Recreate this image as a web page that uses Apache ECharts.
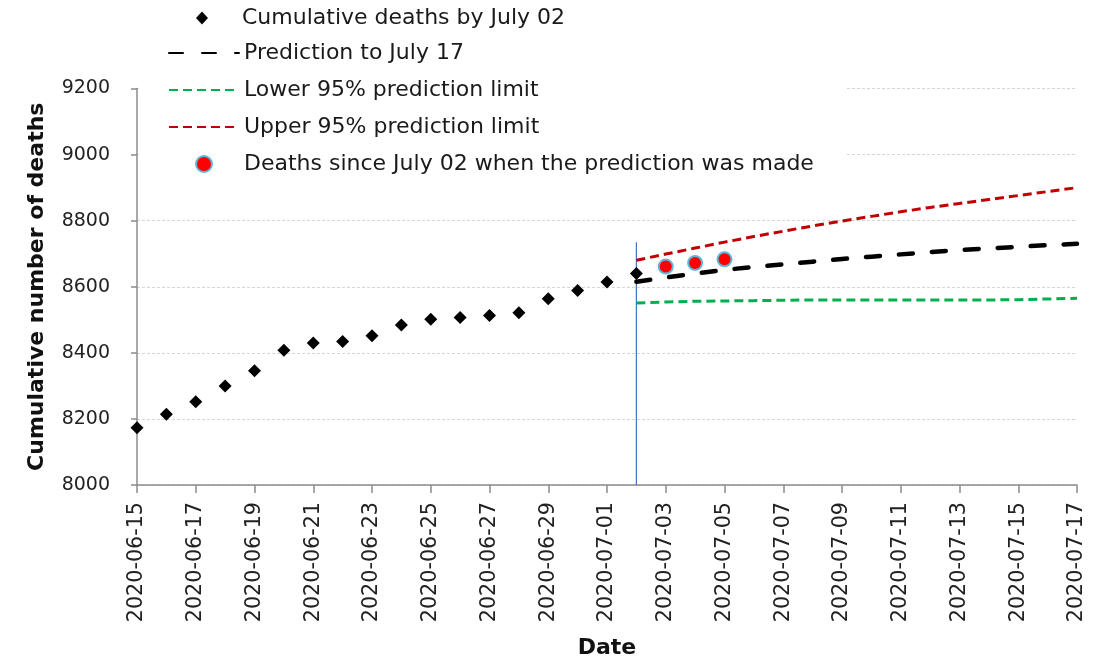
<!DOCTYPE html>
<html>
<head>
<meta charset="utf-8">
<script src="https://cdn.jsdelivr.net/npm/echarts@6/dist/echarts.min.js"></script>
<style>
  html, body { margin: 0; padding: 0; background: #fff; }
  #chart { width: 1112px; height: 664px; }
</style>
</head>
<body>
<div id="chart"></div>
<script>
// Daily calendar axis, 15 June to 17 July 2020
const dates = [
  '2020-06-15', '2020-06-16', '2020-06-17', '2020-06-18', '2020-06-19', '2020-06-20',
  '2020-06-21', '2020-06-22', '2020-06-23', '2020-06-24', '2020-06-25', '2020-06-26',
  '2020-06-27', '2020-06-28', '2020-06-29', '2020-06-30', '2020-07-01', '2020-07-02',
  '2020-07-03', '2020-07-04', '2020-07-05', '2020-07-06', '2020-07-07', '2020-07-08',
  '2020-07-09', '2020-07-10', '2020-07-11', '2020-07-12', '2020-07-13', '2020-07-14',
  '2020-07-15', '2020-07-16', '2020-07-17'
];

// Reported cumulative deaths up to the day the forecast was made
const observedDates = [
  '2020-06-15', '2020-06-16', '2020-06-17', '2020-06-18', '2020-06-19', '2020-06-20',
  '2020-06-21', '2020-06-22', '2020-06-23', '2020-06-24', '2020-06-25', '2020-06-26',
  '2020-06-27', '2020-06-28', '2020-06-29', '2020-06-30', '2020-07-01', '2020-07-02'
];
const observedDeaths = [
  8173, 8214, 8252, 8300, 8346, 8408,
  8430, 8434, 8452, 8484, 8502, 8507,
  8513, 8521, 8564, 8589, 8614, 8640
];

// Forecast horizon with point prediction and 95% prediction limits
const forecastDates = [
  '2020-07-02', '2020-07-03', '2020-07-04', '2020-07-05', '2020-07-06', '2020-07-07',
  '2020-07-08', '2020-07-09', '2020-07-10', '2020-07-11', '2020-07-12', '2020-07-13',
  '2020-07-14', '2020-07-15', '2020-07-16', '2020-07-17'
];
const prediction = [8615, 8628, 8640, 8651, 8660, 8668, 8676, 8684, 8691, 8698, 8705, 8711, 8716, 8721, 8726, 8730];
const lower95 = [8551, 8554, 8556, 8557, 8558, 8559, 8560, 8560, 8560, 8560, 8560, 8560, 8560, 8561, 8563, 8565];
const upper95 = [8680, 8699, 8717, 8735, 8752, 8768, 8784, 8799, 8813, 8827, 8840, 8852, 8864, 8876, 8888, 8900];

// Deaths reported after the forecast date
const newDates = ['2020-07-03', '2020-07-04', '2020-07-05'];
const newDeaths = [8661, 8672, 8683];

// Vertical marker at the forecast date
const cutoffDate = '2020-07-02';
const cutoffRange = [8000, 8735];

const yTicks = { min: 8000, max: 9200, interval: 200 };

const names = {
  observed: 'Cumulative deaths by July 02',
  prediction: 'Prediction to July 17',
  lower: 'Lower 95% prediction limit',
  upper: 'Upper 95% prediction limit',
  recent: 'Deaths since July 02 when the prediction was made'
};

const pairs = (xs, ys) => xs.map((x, i) => [x, ys[i]]);

const FONT = 'DejaVu Sans';
const legendText = { fontFamily: FONT, fontSize: 22, color: '#1a1a1a', lineHeight: 20 };

const chart = echarts.init(document.getElementById('chart'), null, { renderer: 'canvas' });

chart.setOption({
  animation: false,
  backgroundColor: '#ffffff',
  grid: { left: 137, right: 35, top: 88.5, bottom: 179, containLabel: false, outerBoundsMode: 'none' },
  graphic: [{
    type: 'rect',
    z: 3,
    shape: { x: 139, y: 78, width: 707, height: 102 },
    style: { fill: '#ffffff' },
    silent: true
  }],
  legend: [
    {
      data: [{ name: names.observed, icon: 'path://M0,0L6,6.5L0,13L-6,6.5Z' }],
      left: 196, top: 7, padding: 0,
      itemWidth: 70, itemHeight: 13,
      textStyle: legendText,
      z: 5
    },
    {
      data: [names.prediction, names.lower, names.upper],
      orient: 'vertical',
      left: 168, top: 42, padding: 0,
      itemWidth: 70, itemHeight: 14, itemGap: 15,
      itemStyle: { opacity: 0, borderWidth: 0 },
      textStyle: legendText,
      z: 5
    },
    {
      data: [{ name: names.recent, icon: 'circle' }],
      left: 195, top: 153, padding: 0,
      itemWidth: 70, itemHeight: 16,
      textStyle: legendText,
      z: 5
    }
  ],
  xAxis: {
    type: 'category',
    data: dates,
    boundaryGap: false,
    name: 'Date',
    nameLocation: 'middle',
    nameGap: 152,
    nameTextStyle: { fontFamily: FONT, fontSize: 22, fontWeight: 'bold', color: '#111' },
    axisLine: { lineStyle: { color: '#8c8c8c', width: 1.5 } },
    axisTick: { show: true, interval: 1, length: 8, lineStyle: { color: '#8c8c8c', width: 1.5 } },
    axisLabel: {
      interval: 1, rotate: 90, margin: 17,
      fontFamily: FONT, fontSize: 20.7, color: '#222'
    },
    splitLine: { show: false }
  },
  yAxis: {
    type: 'value',
    min: yTicks.min, max: yTicks.max, interval: yTicks.interval,
    name: 'Cumulative number of deaths',
    nameLocation: 'middle',
    nameGap: 89,
    nameTextStyle: { fontFamily: FONT, fontSize: 22, fontWeight: 'bold', color: '#111' },
    axisLine: { show: true, lineStyle: { color: '#8c8c8c', width: 1.5 } },
    axisTick: { show: true, length: 6, lineStyle: { color: '#8c8c8c', width: 1.5 } },
    axisLabel: {
      margin: 27, fontFamily: FONT, fontSize: 19, color: '#222',
      formatter: v => String(v)
    },
    splitLine: { show: true, lineStyle: { color: '#d6d6d6', width: 1.2, type: [3, 2] } }
  },
  series: [
    {
      name: 'cutoff',
      type: 'line',
      data: [[cutoffDate, cutoffRange[0]], [cutoffDate, cutoffRange[1]]],
      symbol: 'none',
      lineStyle: { color: '#4472C4', width: 1.2 },
      z: 1,
      silent: true
    },
    {
      name: names.lower,
      type: 'line',
      data: pairs(forecastDates, lower95),
      symbol: 'none',
      lineStyle: { color: '#00B050', width: 3, type: [9, 5] },
      itemStyle: { color: '#00B050' }
    },
    {
      name: names.upper,
      type: 'line',
      data: pairs(forecastDates, upper95),
      symbol: 'none',
      lineStyle: { color: '#C00000', width: 3, type: [9, 5] },
      itemStyle: { color: '#C00000' }
    },
    {
      name: names.prediction,
      type: 'line',
      data: pairs(forecastDates, prediction),
      symbol: 'none',
      lineStyle: { color: '#000000', width: 4.5, type: [14, 19], cap: 'round' },
      itemStyle: { color: '#000000' }
    },
    {
      name: names.observed,
      type: 'scatter',
      data: pairs(observedDates, observedDeaths),
      symbol: 'diamond',
      symbolSize: 13,
      itemStyle: { color: '#000000', opacity: 1 },
      z: 3
    },
    {
      name: names.recent,
      type: 'scatter',
      data: pairs(newDates, newDeaths),
      symbol: 'circle',
      symbolSize: 14,
      itemStyle: { color: '#FF0000', borderColor: '#62B6D8', borderWidth: 2, opacity: 1 },
      z: 4
    }
  ]
});
</script>
</body>
</html>
